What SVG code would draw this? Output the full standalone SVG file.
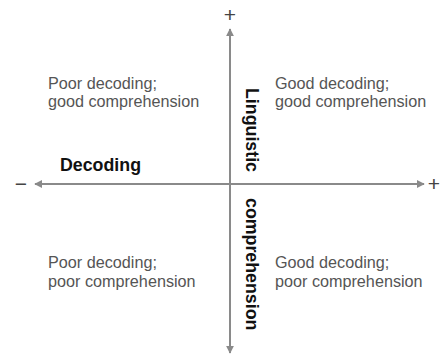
<svg xmlns="http://www.w3.org/2000/svg" width="441" height="358" viewBox="0 0 441 358">
<style>
.q{font-family:"Liberation Sans",Arial,sans-serif;font-size:16.2px;fill:#555}
.b{font-family:"Liberation Sans",Arial,sans-serif;font-size:17.8px;font-weight:bold;fill:#111}
.s{font-family:"Liberation Sans",Arial,sans-serif;font-size:21px;fill:#444}
.ax{stroke:#8a8a8a;stroke-width:2;fill:none}
</style>
<defs>
<marker id="ah" viewBox="0 0 10 10" refX="9" refY="5" markerWidth="4" markerHeight="4" markerUnits="strokeWidth" orient="auto">
<path d="M0,0 L10,5 L0,10 z" fill="#8a8a8a"/>
</marker>
</defs>
<rect width="441" height="358" fill="#fff"/>
<g id="connectors">
<line class="ax" x1="230" y1="184" x2="230" y2="29" marker-end="url(#ah)"/>
<line class="ax" x1="230" y1="184" x2="230" y2="353" marker-end="url(#ah)"/>
<line class="ax" x1="230" y1="184" x2="424" y2="184" marker-end="url(#ah)"/>
<line class="ax" x1="230" y1="184" x2="35" y2="184" marker-end="url(#ah)"/>
</g>
<g id="signs">
<text class="s" x="230" y="22" text-anchor="middle">+</text>
<text class="s" x="21" y="191" text-anchor="middle">−</text>
<text class="s" x="434" y="191" text-anchor="middle">+</text>
</g>
<g id="q-tl"><text class="q" x="48" y="89">Poor decoding;</text><text class="q" x="48" y="107">good comprehension</text></g>
<g id="q-tr"><text class="q" x="275" y="89">Good decoding;</text><text class="q" x="275" y="107">good comprehension</text></g>
<g id="q-bl"><text class="q" x="48" y="268">Poor decoding;</text><text class="q" x="48" y="287">poor comprehension</text></g>
<g id="q-br"><text class="q" x="275" y="268">Good decoding;</text><text class="q" x="275" y="287">poor comprehension</text></g>
<g id="x-label"><text class="b" x="60" y="171">Decoding</text></g>
<g id="y-label">
<text class="b" transform="translate(246,88) rotate(90)">Linguistic</text>
<text class="b" transform="translate(246,198) rotate(90)">comprehension</text>
</g>
</svg>
